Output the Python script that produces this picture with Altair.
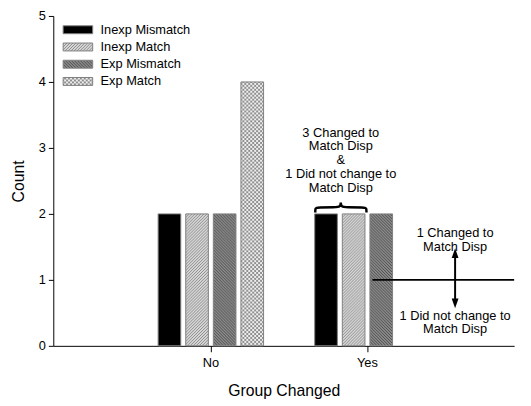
import altair as alt
import pandas as pd

try:
    import jinja2
except Exception:  # pragma: no cover
    jinja2 = None

# ---------------- data ----------------
groups = ["No", "Yes"]
series = ["Inexp Mismatch", "Inexp Match", "Exp Mismatch", "Exp Match"]
counts_no = [2, 2, 2, 4]
counts_yes = [2, 2, 2, 0]

# annotation text blocks (x in group units: No = 1, Yes = 2; y = top of block, in counts)
note_labels = [
    "3 Changed to\nMatch Disp\n&\n1 Did not change to\nMatch Disp",
    "1 Changed to\nMatch Disp",
    "1 Did not change to\nMatch Disp",
]
note_x = [1.836, 2.566, 2.566]
note_y = [3.32, 1.80, 0.546]

# curly brace over the first two "Yes" bars
brace_x = [1.673, 1.673, 1.688, 1.80, 1.836, 1.836, 1.836, 1.872, 1.985, 2.0, 2.0]
brace_y = [2.02, 2.09, 2.10, 2.10, 2.10, 2.21, 2.10, 2.10, 2.10, 2.09, 2.02]

# horizontal split line and double arrow
split_x = [2.038]
split_x2 = [2.943]
split_y = [1.0]
arrow_x = [2.566]
arrow_top = [1.48]
arrow_bottom = [0.57]

fills = ["#000000", "url(#hatchUp)", "url(#hatchDown)", "url(#dots)"]

FONT = "Liberation Sans"

rows = []
for g, vals in zip(groups, [counts_no, counts_yes]):
    for s, v in zip(series, vals):
        if v > 0:
            rows.append({"group": g, "series": s, "count": v})
bars_df = pd.DataFrame(rows)

notes_df = pd.DataFrame({"u": note_x, "c": note_y, "label": note_labels})
brace_df = pd.DataFrame({"u": brace_x, "c": brace_y, "i": list(range(len(brace_x)))})
split_df = pd.DataFrame({"u": split_x, "u2": split_x2, "c": split_y})
shaft_df = pd.DataFrame({"u": arrow_x, "c": [arrow_top[0] - 0.06], "c2": [arrow_bottom[0] + 0.06]})
head_up_df = pd.DataFrame({"u": arrow_x, "c": arrow_top})
head_dn_df = pd.DataFrame({"u": arrow_x, "c": arrow_bottom})

Y_SCALE = alt.Scale(domain=[0, 5], nice=False, zero=True)
ANN_X = alt.Scale(domain=[0, 2.943], nice=False, zero=False)

RECT_PATH = "M-2.5,-0.67H2.5V0.67H-2.5Z"
UP_HEAD = "M0,0L0.45,1.3L-0.45,1.3Z"
DOWN_HEAD = "M0,0L0.45,-1.3L-0.45,-1.3Z"

bars = alt.Chart(bars_df).mark_bar(stroke="#7f7f7f", strokeWidth=1, opacity=1).encode(
    x=alt.X(
        "group:N",
        sort=groups,
        title="Group Changed",
        scale=alt.Scale(domain=groups, paddingInner=0.295, paddingOuter=0.619, align=0.528),
        axis=alt.Axis(labelAngle=0, tickSize=6, labelPadding=5, titlePadding=13,
                      domainColor="black", tickColor="black", domainWidth=1, tickWidth=1),
    ),
    xOffset=alt.XOffset(
        "series:N",
        scale=alt.Scale(domain=series, paddingInner=0.18, paddingOuter=0.09),
    ),
    y=alt.Y(
        "count:Q",
        scale=Y_SCALE,
        title="Count",
        axis=alt.Axis(values=[0, 1, 2, 3, 4, 5], tickSize=5, labelPadding=3, titlePadding=12,
                      grid=False, domainColor="black", tickColor="black", format="d"),
    ),
    color=alt.Color(
        "series:N",
        scale=alt.Scale(domain=series, range=fills),
        legend=alt.Legend(
            title=None, orient="none", legendX=18.5, legendY=7.5,
            symbolType=RECT_PATH, symbolSize=144, symbolStrokeColor="#7f7f7f",
            symbolStrokeWidth=1, symbolOpacity=1, labelFont=FONT, labelFontSize=13,
            labelColor="black", labelOffset=16.5, rowPadding=3.5, padding=0,
        ),
    ),
)

def ax(field):
    return alt.X(field, type="quantitative", scale=ANN_X, axis=None)

def ay(field):
    return alt.Y(field, type="quantitative", scale=Y_SCALE, axis=None)

notes = alt.Chart(notes_df).mark_text(
    font=FONT, fontSize=13, align="center", baseline="top", color="black",
    lineBreak="\n", lineHeight=14,
).encode(x=ax("u"), y=ay("c"), text="label:N")

brace = alt.Chart(brace_df).mark_line(
    interpolate="basis", color="black", strokeWidth=2.5
).encode(x=ax("u"), y=ay("c"), order="i:O")

split = alt.Chart(split_df).mark_rule(color="black", strokeWidth=2).encode(
    x=ax("u"), x2="u2", y=ay("c")
)

shaft = alt.Chart(shaft_df).mark_rule(color="black", strokeWidth=2).encode(
    x=ax("u"), y=ay("c"), y2="c2"
)

head_up = alt.Chart(head_up_df).mark_point(
    shape=UP_HEAD, filled=True, size=237, color="black", opacity=1
).encode(x=ax("u"), y=ay("c"))

head_dn = alt.Chart(head_dn_df).mark_point(
    shape=DOWN_HEAD, filled=True, size=237, color="black", opacity=1
).encode(x=ax("u"), y=ay("c"))

chart = alt.layer(bars, split, shaft, head_up, head_dn, brace, notes).resolve_scale(
    x="independent", y="independent"
).properties(
    width=468,
    height=335,
    padding={"left": 46, "top": 5, "right": 9, "bottom": 58},
    autosize=alt.AutoSizeParams(type="none"),
).configure_view(stroke=None).configure_axis(
    labelFont=FONT, titleFont=FONT, labelFontSize=13, titleFontSize=16,
    titleFontWeight="normal", labelColor="black", titleColor="black", grid=False,
)

PATTERN_DEFS = """
<svg width="0" height="0" style="position:absolute;left:0;top:0" aria-hidden="true">
  <defs>
    <pattern id="hatchUp" patternUnits="userSpaceOnUse" width="3" height="3">
      <rect width="3" height="3" fill="#d8d8d8"/>
      <path d="M-1,1 L1,-1 M0,3 L3,0 M2,4 L4,2" stroke="#8a8a8a" stroke-width="1"/>
    </pattern>
    <pattern id="hatchDown" patternUnits="userSpaceOnUse" width="3" height="3">
      <rect width="3" height="3" fill="#8c8c8c"/>
      <path d="M-1,2 L1,4 M0,0 L3,3 M2,-1 L4,1" stroke="#4a4a4a" stroke-width="1"/>
    </pattern>
    <pattern id="dots" patternUnits="userSpaceOnUse" width="4" height="4">
      <rect width="4" height="4" fill="#8f8f8f"/>
      <rect x="0" y="0" width="2" height="2" fill="#eeeeee"/>
      <rect x="2" y="2" width="2" height="2" fill="#eeeeee"/>
    </pattern>
  </defs>
</svg>
"""

TEMPLATE = None
if jinja2 is not None:
    TEMPLATE = jinja2.Template(
        """<!DOCTYPE html>
<html>
<head>
  <style>
    body { overflow: hidden; }
    #{{ output_div }}.vega-embed { width: 100%; display: flex; }
  </style>
  <script type="text/javascript" src="{{ base_url }}/vega@{{ vega_version }}"></script>
  <script type="text/javascript" src="{{ base_url }}/vega-lite@{{ vegalite_version }}"></script>
  <script type="text/javascript" src="{{ base_url }}/vega-embed@{{ vegaembed_version }}"></script>
</head>
<body>
""" + PATTERN_DEFS + """
  <div id="{{ output_div }}"></div>
  <script>
    (function(vegaEmbed) {
      var spec = {{ spec }};
      var embedOpt = {{ embed_options }};
      function showError(el, error){
          el.innerHTML = ('<div style="color:red;"><p>JavaScript Error: ' + error.message + '</p></div>');
          throw error;
      }
      const el = document.getElementById('{{ output_div }}');
      vegaEmbed("#{{ output_div }}", spec, embedOpt)
        .catch(error => showError(el, error));
    })(vegaEmbed);
  </script>
</body>
</html>
"""
    )

try:
    chart.save("out.html", embed_options={"renderer": "svg", "actions": False}, template=TEMPLATE)
except Exception:
    chart.save("out.html", embed_options={"renderer": "svg", "actions": False})
